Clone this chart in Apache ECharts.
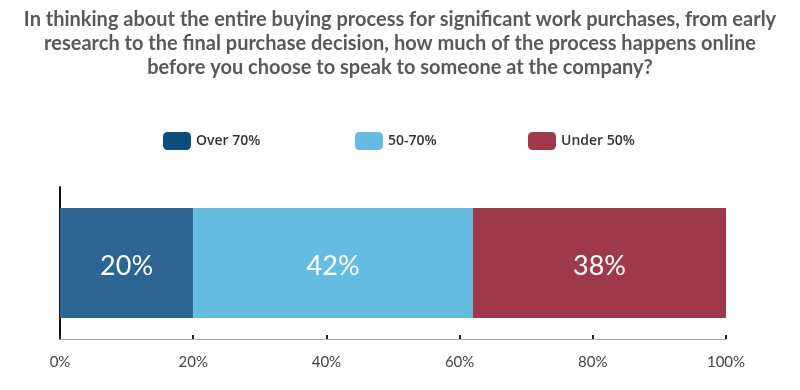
<!DOCTYPE html>
<html><head><meta charset="utf-8">
<script src="https://cdn.jsdelivr.net/npm/echarts@6/dist/echarts.min.js"></script>
<style>html,body{margin:0;padding:0;background:#fff}#c{width:800px;height:390px}</style>
</head><body><div id="c"></div>
<script>
const titleText = "In thinking about the entire buying process for significant work purchases, from early\nresearch to the final purchase decision, how much of the process happens online\nbefore you choose to speak to someone at the company?";
const categories = ["All"];
const seriesNames = ["Over 70%", "50-70%", "Under 50%"];
const over70 = [20];
const mid = [42];
const under50 = [38];
const xTicks = [0, 20, 40, 60, 80, 100];
const barColors = ["#2c6591", "#64bde0", "#9e394c"];
const legendColors = ["#0d4f7c", "#64bde0", "#9e394c"];
const legendLefts = [158, 350, 523];
const values = [over70, mid, under50];

const chart = echarts.init(document.getElementById('c'));
chart.setOption({
  animation: false,
  title: {
    text: titleText, left: 'center', top: 3,
    textStyle: {fontFamily: 'Lato, "Open Sans", sans-serif', fontSize: 20, fontWeight: 'bold', color: '#595959', lineHeight: 24}
  },
  legend: seriesNames.map((n, i) => ({
    top: 127, left: legendLefts[i], itemWidth: 28, itemHeight: 18,
    textStyle: {fontFamily: '"Open Sans", Lato, sans-serif', fontSize: 14, color: '#333', fontWeight: 600},
    data: [{name: n, itemStyle: {color: legendColors[i]}}],
    selectedMode: false
  })),
  grid: {left: 60, right: 74, top: 187, bottom: 51},
  xAxis: {
    type: 'value', min: 0, max: 100, interval: 20,
    axisLine: {show: true, lineStyle: {color: '#aaa', width: 1}},
    axisTick: {show: true, inside: true, length: 4, lineStyle: {color: '#222', width: 2}},
    splitLine: {show: false},
    axisLabel: {formatter: v => xTicks.includes(v) ? v + '%' : '', margin: 16, fontFamily: 'Lato, "Open Sans", sans-serif', fontSize: 15, color: '#444'}
  },
  yAxis: {
    type: 'category', data: categories,
    axisLine: {show: true, lineStyle: {color: '#111', width: 2}},
    axisTick: {show: false}, axisLabel: {show: false}
  },
  series: seriesNames.map((n, i) => ({
    name: n, type: 'bar', stack: 'total', barWidth: 110,
    data: values[i],
    itemStyle: {color: barColors[i]},
    label: {show: true, position: 'inside', offset: [0, 3], formatter: '{c}%', color: '#fff', fontSize: 27, fontFamily: 'Lato, "Open Sans", sans-serif'}
  }))
});
</script></body></html>
